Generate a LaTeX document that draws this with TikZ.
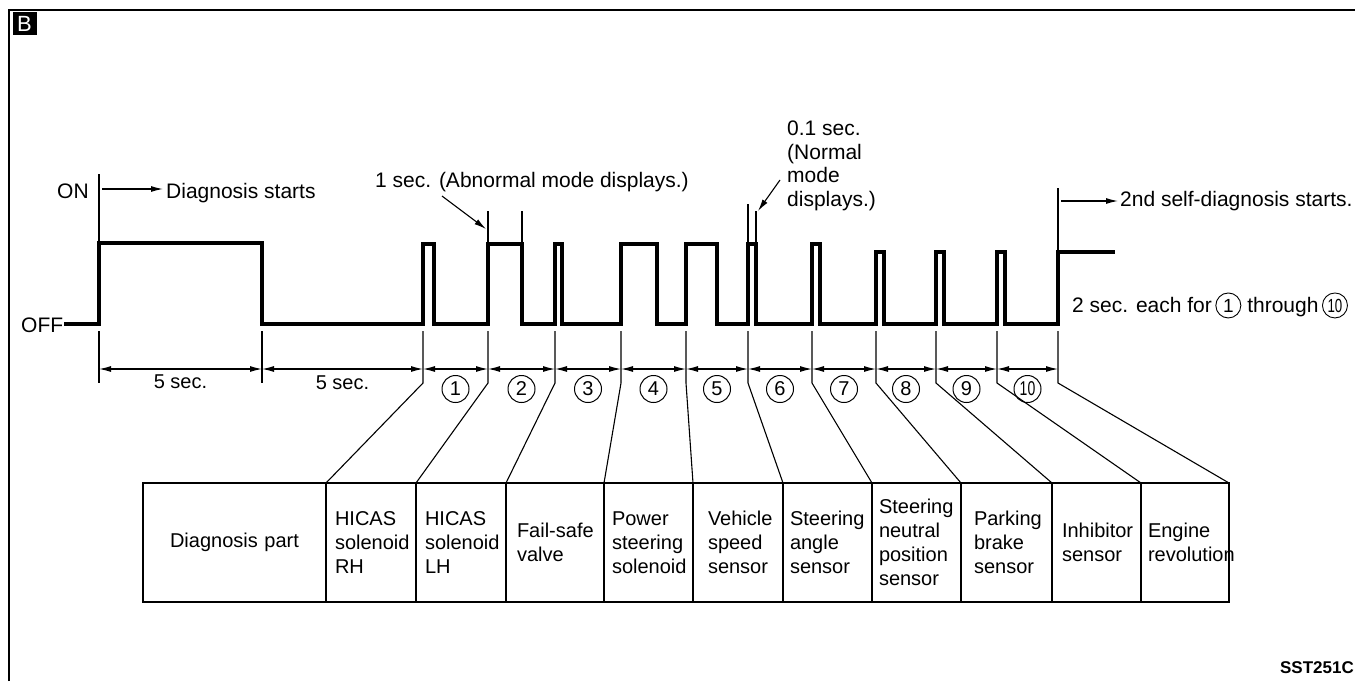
\documentclass[tikz,border=0pt]{standalone}
\usepackage{fontspec}
\setmainfont{Liberation Sans}
\usetikzlibrary{positioning, arrows.meta}
\hyphenpenalty=10000
\exhyphenpenalty=10000
% circled number inside running text
\newcommand{\cnum}[1]{\tikz[baseline=(cn.base)] \node[draw, circle, line width=0.9pt, minimum size=25pt, inner sep=0pt, font=\fontsize{19}{19}\selectfont] (cn) {#1};}

\begin{document}
\begin{tikzpicture}[
        x=1pt, y=-1pt,
        % Define styles for the timing chart and the diagnosis table
        every node/.style={font=\fontsize{20}{24}\selectfont, inner sep=0pt},
        note/.style={font=\fontsize{21}{23.5}\selectfont},
        wave/.style={line width=3.2pt, line join=miter},
        extline/.style={line width=1.1pt},
        dimline/.style={line width=1.1pt, {Latex[length=12pt,width=6pt]}-{Latex[length=12pt,width=6pt]}},
        callout/.style={line width=1.1pt, -{Latex[length=12pt,width=6pt]}},
        circnum/.style={draw, circle, line width=1pt, minimum size=27pt, inner sep=0pt, font=\fontsize{20}{20}\selectfont},
        cell/.style 2 args={draw, line width=1.6pt, minimum height=119pt, text width=#1, inner xsep=#2, inner ysep=0pt, outer sep=0pt, align=left}
    ]
    \useasboundingbox (0,0) rectangle (1355,681);

    % --- FRAME ---
    \draw[line width=2pt] (8.5,681) -- (8.5,9.5) -- (1355,9.5);
    \node[fill=black, text=white, minimum width=24pt, minimum height=23pt, font=\fontsize{22}{22}\selectfont] (badge) at (24.5,23.5) {B};

    % --- WAVEFORM ---
    \node[note, anchor=base west] (on) at (57,198) {ON};
    \node[note, anchor=base west] (off) at (21,332) {OFF};
    \draw[wave] (64,324) -- (99,324) -- (99,243) -- (262,243) -- (262,324)
        \foreach \a/\b/\h in {423/434/244, 488/522/244, 555/562/244, 621/657/244, 686/717/244,
                              748/756/244, 812/820/244, 876/884/252, 936/944/252, 997/1005/252}
        { -- (\a,324) -- (\a,\h) -- (\b,\h) -- (\b,324) }
        -- (1058,324) -- (1058,252) -- (1115,252);

    % --- NOTES ---
    % Diagnosis starts
    \draw[extline] (99,174) -- (99,244);
    \coordinate (startmark) at (99,189);
    \node[note, anchor=base west] (diagstart) at (166,198) {Diagnosis starts};
    \draw[callout, shorten <=3pt, shorten >=3pt] (startmark) -- (startmark -| diagstart.west);

    % Abnormal mode (1 sec.)
    \node[note, anchor=base west] (abnormal) at (375,187) {1 sec. (Abnormal mode displays.)};
    \draw[extline] (488,211) -- (488,244);
    \draw[extline] (522,211) -- (522,244);
    \coordinate (abntail) at (442,196);
    \coordinate (abntip) at (486,229);
    \draw[callout] (abntail) -- (abntip);

    % Normal mode (0.1 sec.)
    \node[note, anchor=north west, align=left] (normal) at (787,121) {0.1 sec.\\(Normal\\mode\\displays.)};
    \draw[extline] (748,204) -- (748,244);
    \draw[extline] (756,211) -- (756,244);
    \coordinate (nortail) at (780,180);
    \coordinate (nortip) at (758,211);
    \draw[callout] (nortail) -- (nortip);

    % 2nd self-diagnosis
    \draw[extline] (1058,188) -- (1058,252);
    \coordinate (selfmark) at (1058,201);
    \node[note, anchor=base west] (selfdiag) at (1120,206) {2nd self-diagnosis starts.};
    \draw[callout, shorten <=3pt, shorten >=2pt] (selfmark) -- (selfmark -| selfdiag.west);

    \node[note, anchor=base west] (each) at (1072,312) {2 sec. each for\,\cnum{1}\hspace{6pt}through\,\cnum{\scalebox{0.7}[1]{10}}};

    % --- DIAGNOSIS TABLE ---
    \node[cell={167pt}{8pt}, align=center, anchor=west] (diag) at (143,542.5) {Diagnosis part};
    \node[cell={72pt}{9pt}, right=0pt of diag] (hicasrh) {HICAS\\solenoid\\RH};
    \node[cell={72pt}{9pt}, right=0pt of hicasrh] (hicaslh) {HICAS\\solenoid\\LH};
    \node[cell={76pt}{11pt}, right=0pt of hicaslh] (failsafe) {Fail-safe\\valve};
    \node[cell={73pt}{8pt}, right=0pt of failsafe] (powerst) {Power\\steering\\solenoid};
    \node[cell={60pt}{15pt}, right=0pt of powerst] (vspeed) {Vehicle\\speed\\sensor};
    \node[cell={75pt}{7pt}, right=0pt of vspeed] (stangle) {Steering\\angle\\sensor};
    \node[cell={75pt}{7pt}, right=0pt of stangle] (stneutral) {Steering\\neutral\\position\\sensor};
    \node[cell={65pt}{13pt}, right=0pt of stneutral] (parking) {Parking\\brake\\sensor};
    \node[cell={69pt}{10pt}, right=0pt of parking] (inhibitor) {Inhibitor\\sensor};
    \node[cell={74pt}{7pt}, right=0pt of inhibitor] (engine) {Engine\\revolution};

    % --- DIMENSIONS & CONNECTIONS ---
    \foreach \x [count=\i] in {99,262,423,488,555,621,686,748,812,876,936,997,1058} {
        \coordinate (top\i) at (\x,331);
        \coordinate (tick\i) at (\x,369);
        \coordinate (bend\i) at (\x,383);
    }
    \draw[dimline] (tick1) -- node[below=5pt] {5 sec.} (tick2);
    \draw[dimline] (tick2) -- node[below=6pt] {5 sec.} (tick3);
    \foreach \i/\j/\n in {3/4/1, 4/5/2, 5/6/3, 6/7/4, 7/8/5, 8/9/6, 9/10/7, 10/11/8, 11/12/9, 12/13/{\scalebox{0.7}[1]{10}}}
        \draw[dimline] (tick\i) -- node[circnum, below=6pt] {\n} (tick\j);

    \draw[extline] (top1) -- (bend1);
    \draw[extline] (top2) -- (bend2);
    \foreach \i/\c in {3/hicasrh.north west, 4/hicaslh.north west, 5/failsafe.north west,
                       6/powerst.north west, 7/vspeed.north west, 8/stangle.north west,
                       9/stneutral.north west, 10/parking.north west, 11/inhibitor.north west,
                       12/engine.north west, 13/engine.north east}
        \draw[extline] (top\i) -- (bend\i) -- (\c);

    \node[anchor=base east, font=\fontsize{17}{17}\selectfont\bfseries] (figid) at (1354,673) {SST251C};
\end{tikzpicture}
\end{document}
